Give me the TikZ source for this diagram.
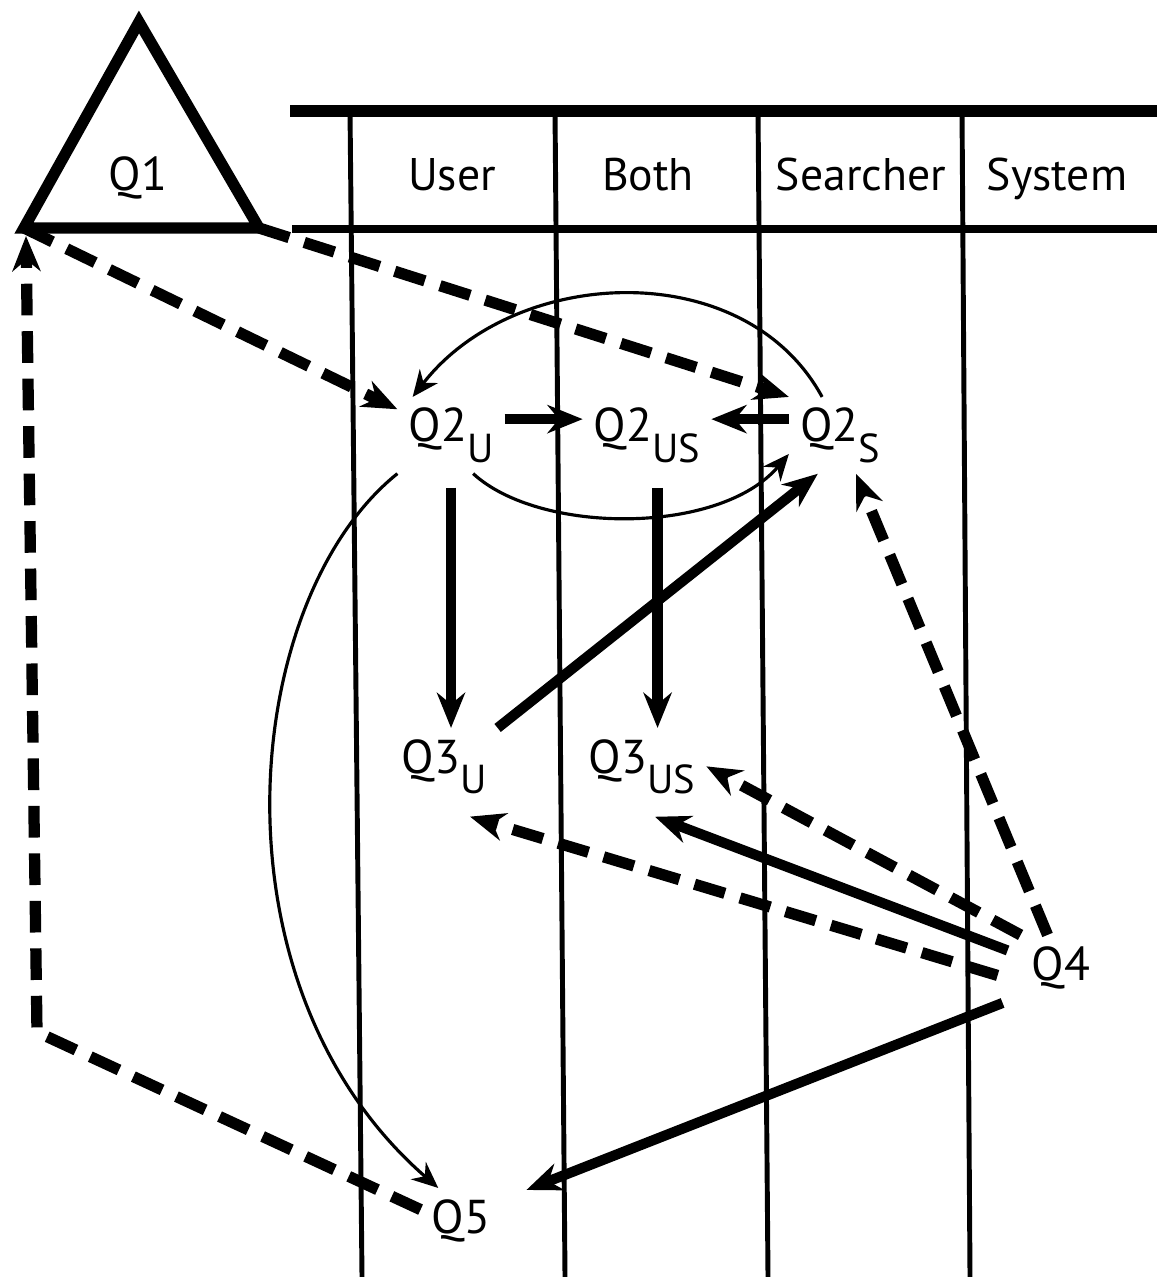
\documentclass[tikz,border=0pt]{standalone}
\usepackage{fontspec}
\setmainfont{PT Sans}
\usetikzlibrary{arrows.meta}
\newcommand{\lanesub}[1]{\raisebox{-0.2cm}{\fontsize{11.5}{11.5}\selectfont #1}}

\begin{document}
\begin{tikzpicture}[
    x=0.01cm, y=-0.01cm,
    every node/.style={font=\fontsize{13}{15}\selectfont, inner sep=3pt, anchor=base},
    qnode/.style={font=\fontsize{13.5}{15}\selectfont},
    lane/.style={line width=1.4pt},
    flow/.style={line width=2.9pt, -{Stealth[length=10pt, width=8pt]}},
    dflow/.style={flow, line width=3.2pt, dash pattern=on 9pt off 4.5pt},
    curveflow/.style={line width=0.9pt, -{Stealth[length=7.5pt, width=6.5pt]}}
]
    \useasboundingbox (0,0) rectangle (1157,1277);

    % table of roles
    \draw[line width=3.4pt] (290,111) -- (1157,111);
    \draw[line width=2pt] (292,229) -- (1157,229);
    \draw[lane] (350,111) -- (362,1277);
    \draw[lane] (555,111) -- (565,1277);
    \draw[lane] (758,111) -- (768,1277);
    \draw[lane] (962,111) -- (970,1277);
    \node (user) at (452,191) {User};
    \node (both) at (648,191) {Both};
    \node (searcher) at (861,191) {Searcher};
    \node (system) at (1057,191) {System};

    % Q1 triangle
    \coordinate (ta) at (139,22);
    \coordinate (tl) at (24,228);
    \coordinate (tr) at (259,228);
    \draw[line width=3.2pt] (ta) -- (tr) -- (tl) -- cycle;
    \node[qnode] (q1) at (138,191) {Q1};

    \node[qnode] (q2u) at (451,442) {Q2\lanesub{U}};
    \node[qnode] (q2us) at (647,442) {Q2\lanesub{US}};
    \node[qnode] (q2s) at (840,442) {Q2\lanesub{S}};
    \node[qnode] (q3u) at (444,773) {Q3\lanesub{U}};
    \node[qnode] (q3us) at (642,773) {Q3\lanesub{US}};
    \node[qnode] (q4) at (1061,980) {Q4};
    \node[qnode] (q5) at (461,1233) {Q5};
    \coordinate (bend) at (37,1032);

    \draw[dflow] (tl) -- (q2u);
    \draw[dflow] (tr) -- (q2s.north west);
    \draw[dflow] (q5.165) -- (bend) -- ([shift={(2,8)}]tl);

    \draw[flow] ([yshift=4pt]q2u.mid east) -- ([yshift=4pt]q2us.mid west);
    \draw[flow] ([yshift=4pt]q2s.mid west) -- ([yshift=4pt]q2us.mid east);
    \draw[curveflow] (q2s.115) .. controls (745,255) and (515,265) .. (q2u.135);
    \draw[curveflow] (q2u.-60) .. controls (540,535) and (720,535) .. (q2s.200);
    \draw[curveflow] (q2u.south west) .. controls (240,600) and (205,985) .. (q5.125);

    \draw[flow, shorten <=4pt] (q2u.south) -- (q2u.south |- q3u.north);
    \draw[flow, shorten <=4pt] ([xshift=3pt]q2us.south) -- ([xshift=3pt]q2us.south |- q3us.north);
    \draw[flow] (q3u.north east) -- (q2s.-120);

    \draw[dflow] (q4) -- (q2s);
    \draw[dflow] (q4.north west) -- (q3us.east);
    \draw[flow] ([shift={(-13,-17)}]q4.west) -- ([shift={(13,12)}]q3us.south);
    \draw[dflow] ([shift={(-23,8)}]q4.west) -- ([shift={(26,12)}]q3u.south);
    \draw[flow] ([shift={(-18,3)}]q4.south west) -- ([shift={(25,2)}]q5.north east);
\end{tikzpicture}
\end{document}
